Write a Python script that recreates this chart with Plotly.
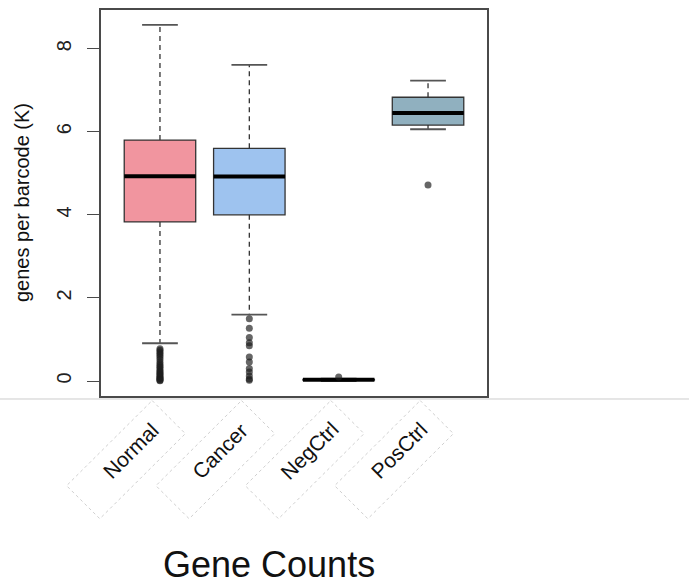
import math
import plotly.graph_objects as go

# ---------------- data ----------------
categories = ["Normal", "Cancer", "NegCtrl", "PosCtrl"]
q1 = [3.83, 4.00, 0.02, 6.16]
median = [4.93, 4.92, 0.03, 6.45]
q3 = [5.80, 5.60, 0.04, 6.83]
lower_whisker = [0.91, 1.60, 0.00, 6.06]
upper_whisker = [8.57, 7.61, 0.06, 7.23]
outliers = [
    [0.78, 0.74, 0.70, 0.66, 0.62, 0.57, 0.52, 0.46, 0.41, 0.37, 0.33, 0.29,
     0.25, 0.22, 0.19, 0.16, 0.13, 0.10, 0.08, 0.06, 0.04, 0.02, 0.01],
    [1.50, 1.27, 1.05, 0.92, 0.85, 0.58, 0.46, 0.30, 0.22, 0.12, 0.05, 0.02],
    [0.10],
    [4.72],
]
fill_colors = ["#F1959F", "#9EC3EF", "#B8C9A3", "#90B0BF"]
y_ticks = [0, 2, 4, 6, 8]
title_text = "Gene Counts"
y_title = "genes per barcode (K)"

# ---------------- styles ----------------
FONT = "Liberation Sans, Arial, Helvetica, sans-serif"
BOXW = 0.8
CAPW = 0.4
X_RANGE = [0.34, 4.66]
positions = list(range(1, len(categories) + 1))

fig = go.Figure()

for i, (pos, cat) in enumerate(zip(positions, categories)):
    # whiskers (dashed)
    fig.add_trace(go.Scatter(
        x=[pos, pos, None, pos, pos],
        y=[q3[i], upper_whisker[i], None, q1[i], lower_whisker[i]],
        mode="lines", line=dict(color="#333333", width=1.3, dash="5px,4px"),
        hoverinfo="skip", showlegend=False))
    # caps
    fig.add_trace(go.Scatter(
        x=[pos - CAPW / 2, pos + CAPW / 2, None, pos - CAPW / 2, pos + CAPW / 2],
        y=[upper_whisker[i], upper_whisker[i], None, lower_whisker[i], lower_whisker[i]],
        mode="lines", line=dict(color="#555555", width=1.8),
        hoverinfo="skip", showlegend=False))
    # box body
    fig.add_trace(go.Box(
        x=[pos], q1=[q1[i]], median=[median[i]], q3=[q3[i]],
        lowerfence=[q1[i]], upperfence=[q3[i]],
        width=BOXW, fillcolor=fill_colors[i],
        line=dict(color="#333333", width=1.3),
        name=cat, showlegend=False, boxpoints=False))
    # thick median
    fig.add_trace(go.Scatter(
        x=[pos - BOXW / 2, pos + BOXW / 2], y=[median[i], median[i]],
        mode="lines", line=dict(color="black", width=4),
        hoverinfo="skip", showlegend=False))
    # outliers
    fig.add_trace(go.Scatter(
        x=[pos] * len(outliers[i]), y=outliers[i], mode="markers",
        marker=dict(size=7, color="rgba(30,30,30,0.68)", line=dict(width=0)),
        hoverinfo="skip", showlegend=False))

# ---------------- layout ----------------
L, R, T, B = 101, 202, 8, 188
W, H = 689, 584
plot_w = W - L - R
plot_h = H - T - B


def py(pix):
    return (H - B - pix) / plot_h


def px(pix):
    return (pix - L) / plot_w


def cat_px(pos):
    return L + (pos - X_RANGE[0]) / (X_RANGE[1] - X_RANGE[0]) * plot_w


fig.update_layout(
    width=W, height=H,
    margin=dict(l=L, r=R, t=T, b=B),
    paper_bgcolor="white", plot_bgcolor="white",
    font=dict(family=FONT, color="#222222"),
    xaxis=dict(range=X_RANGE, showticklabels=False, ticks="",
               showgrid=False, zeroline=False, showline=True, mirror=True,
               linecolor="#4a4a4a", linewidth=1.5),
    yaxis=dict(range=[-0.36, 8.93], tickvals=y_ticks,
               ticktext=[str(v) for v in y_ticks],
               ticks="outside", ticklen=12, tickcolor="#4a4a4a", tickwidth=1.3,
               tickangle=-90, tickfont=dict(size=20, color="#222222"),
               ticklabelstandoff=8,
               showgrid=False, zeroline=False, showline=True, mirror=True,
               linecolor="#4a4a4a", linewidth=1.5),
)

# light separator line
fig.add_shape(type="line", xref="paper", yref="paper",
              x0=px(-5), x1=px(W + 5), y0=py(399), y1=py(399),
              line=dict(color="#cccccc", width=1))

# rotated dashed label frames + labels
HALF_L, HALF_W = 60.5, 23.5
CX, CY = -34, 460          # frame centre relative to category position (px)
s = 1 / math.sqrt(2)
offsets = []
for a, b in [(1, -1), (1, 1), (-1, 1), (-1, -1)]:
    dx = a * HALF_L * s + b * HALF_W * s
    dy = a * HALF_L * s - b * HALF_W * s   # upward positive
    offsets.append((CX + dx, CY - dy))       # to screen pixels

for pos, cat in zip(positions, categories):
    cx = cat_px(pos)
    pts = [(px(cx + ox), py(oy)) for ox, oy in offsets]
    path = "M " + " L ".join(f"{u:.5f},{v:.5f}" for u, v in pts) + " Z"
    fig.add_shape(type="path", xref="paper", yref="paper", path=path,
                  line=dict(color="#d0d0d0", width=1, dash="3px,3px"))
    fig.add_annotation(x=pos, y=py(451), xref="x", yref="paper",
                       xshift=-29, text=cat, showarrow=False, textangle=-45,
                       xanchor="center", yanchor="middle",
                       font=dict(size=21, color="#111111", family=FONT))

# y-axis title
fig.add_annotation(x=px(22), y=py(202), xref="paper", yref="paper",
                   text=y_title, showarrow=False, textangle=-90,
                   xanchor="center", yanchor="middle",
                   font=dict(size=20, color="#111111", family=FONT))

# main title (bottom)
fig.add_annotation(x=px(269), y=py(565), xref="paper", yref="paper",
                   text=title_text, showarrow=False,
                   xanchor="center", yanchor="middle",
                   font=dict(size=36, color="#111111", family=FONT))

fig.write_html("out.html",
               config={"displayModeBar": False},
               post_script="document.body.style.margin='0';"
                           "document.body.style.overflow='hidden';")
